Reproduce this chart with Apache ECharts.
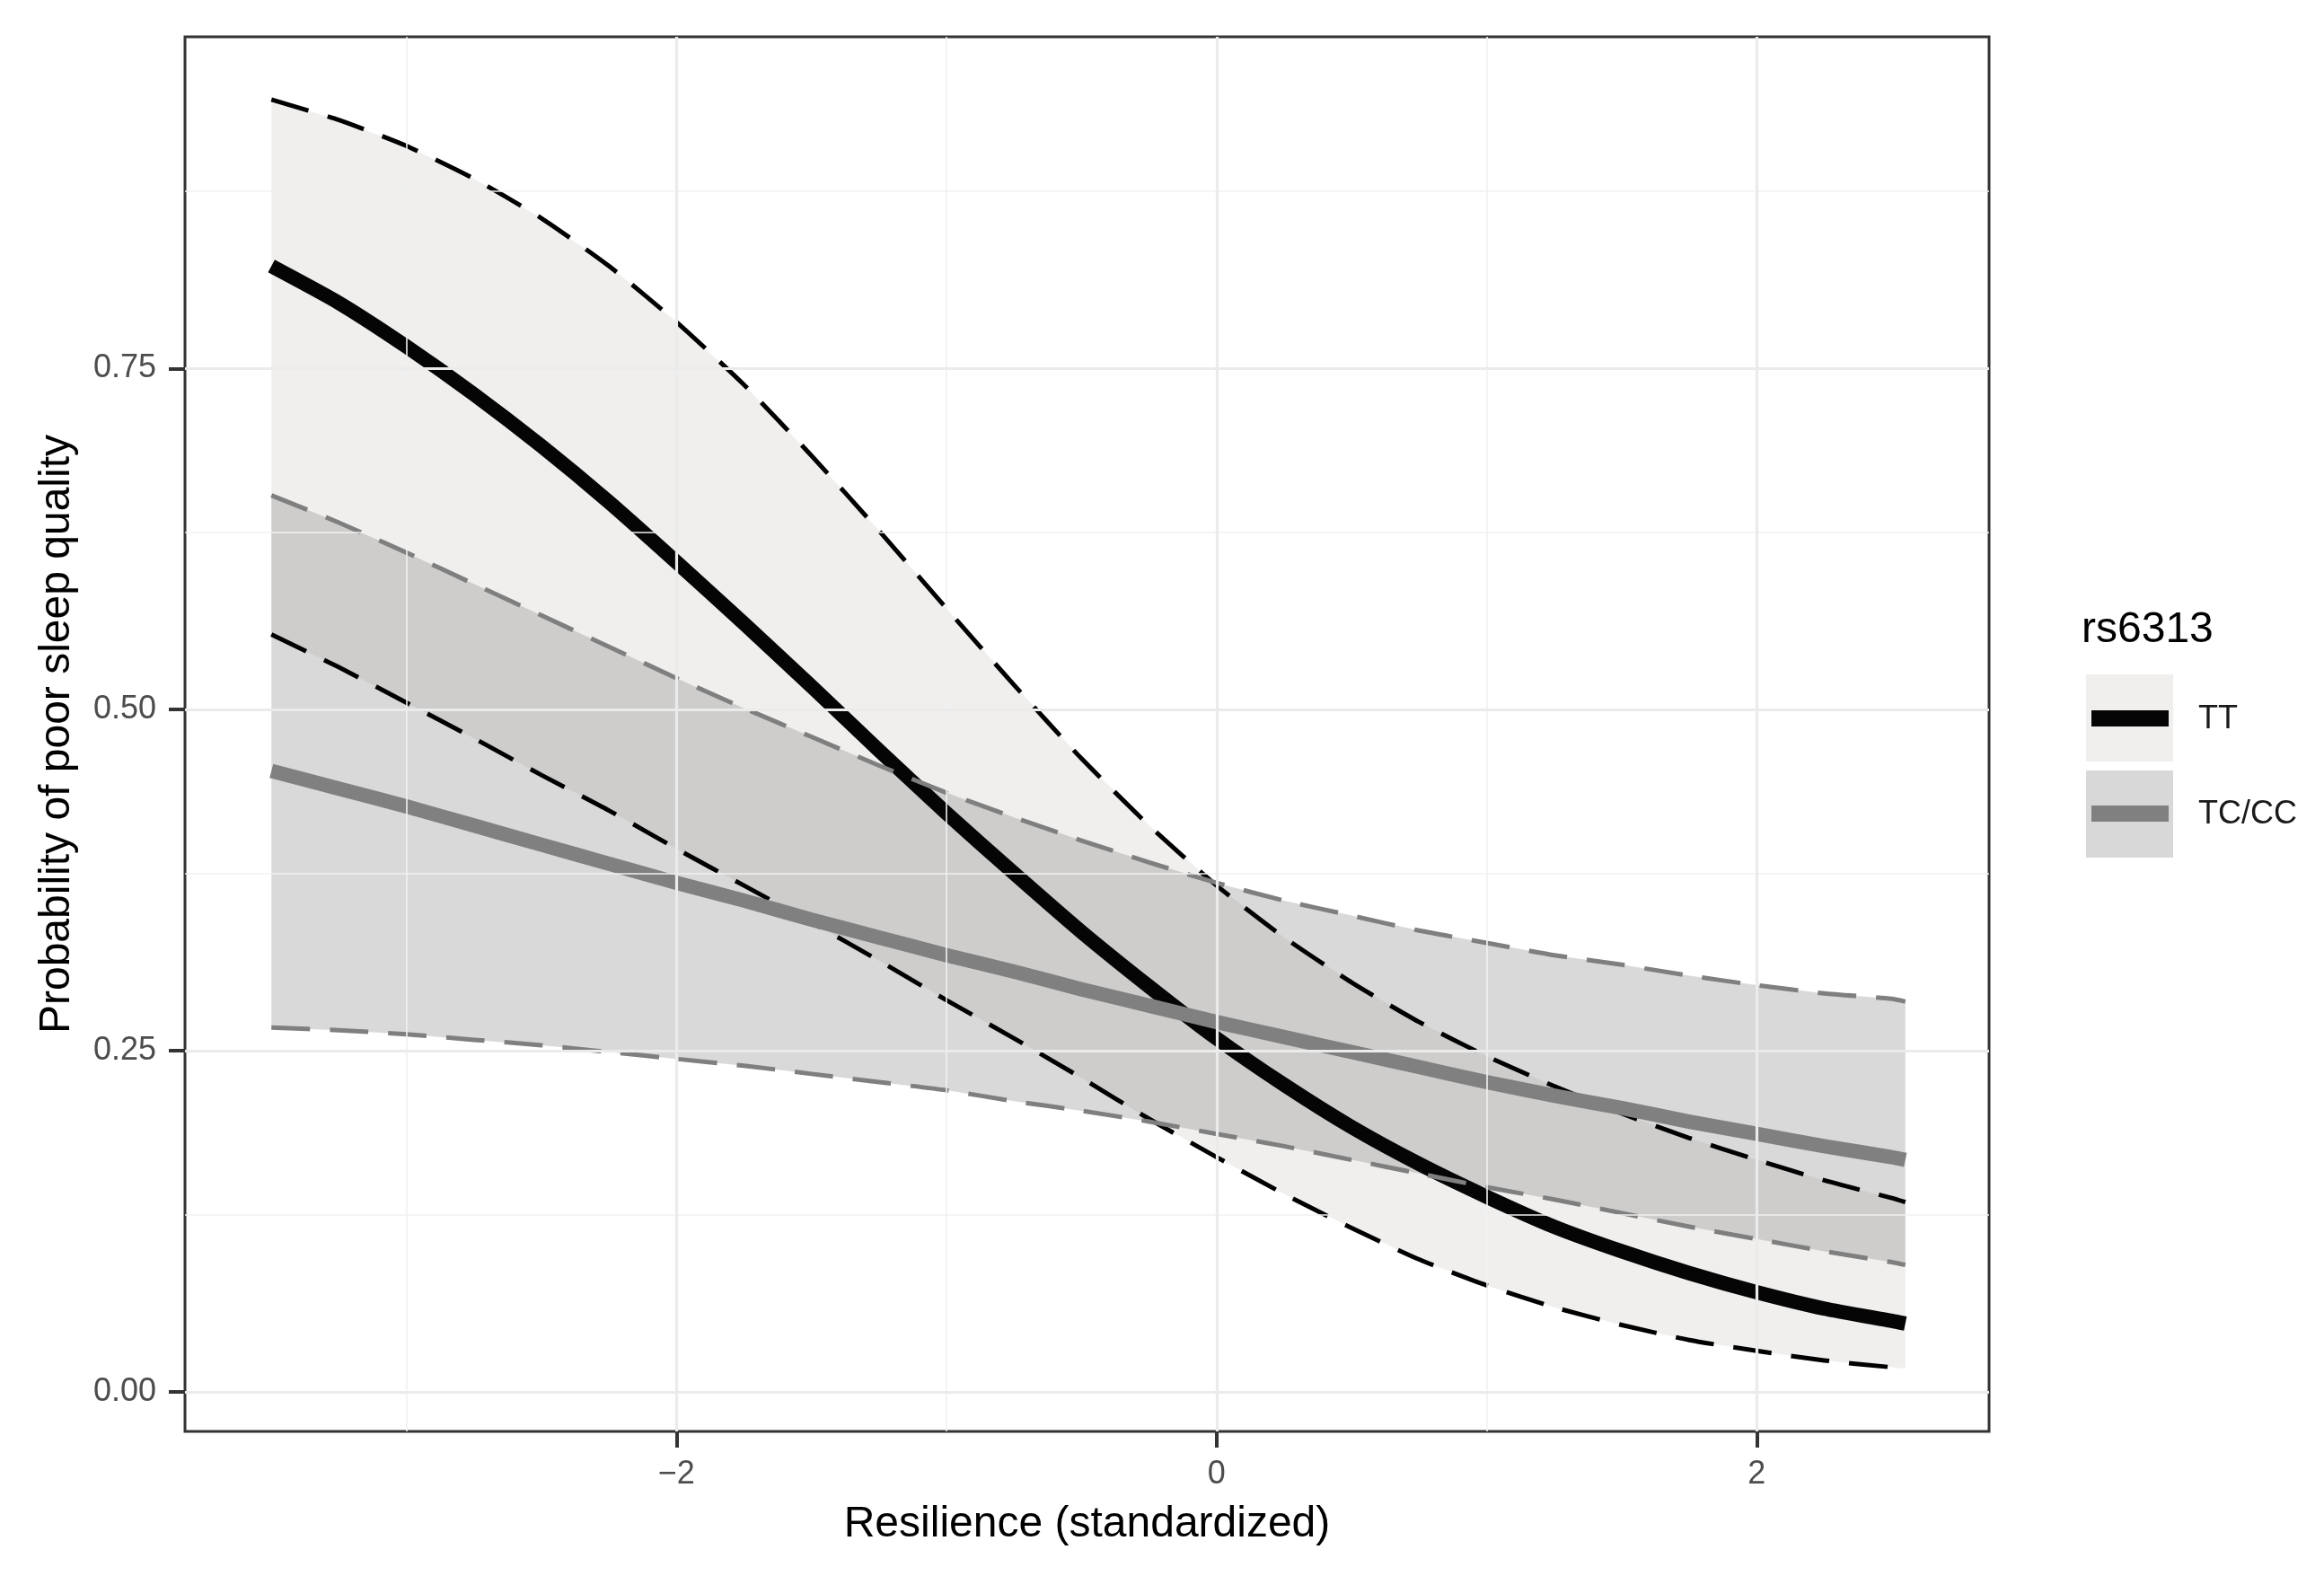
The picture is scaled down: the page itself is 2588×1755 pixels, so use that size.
<!DOCTYPE html>
<html>
<head>
<meta charset="utf-8">
<script src="https://cdn.jsdelivr.net/npm/echarts@6/dist/echarts.min.js"></script>
<style>
html,body{margin:0;padding:0;background:#fff;}
#chart{width:2588px;height:1755px;}
</style>
</head>
<body>
<div id="chart"></div>
<script>
// ---- data ----
const resilience = [-3.5, -3.25, -3, -2.75, -2.5, -2.25, -2, -1.75, -1.5, -1.25, -1, -0.75, -0.5, -0.25,
                    0, 0.25, 0.5, 0.75, 1, 1.25, 1.5, 1.75, 2, 2.25, 2.5, 2.55];
const ttFit   = [0.825, 0.798, 0.766, 0.731, 0.693, 0.652, 0.608, 0.563, 0.517, 0.470, 0.424, 0.380, 0.337, 0.297,
                 0.259, 0.225, 0.194, 0.167, 0.143, 0.121, 0.103, 0.087, 0.073, 0.061, 0.052, 0.050];
const ttUpper = [0.947, 0.932, 0.913, 0.889, 0.860, 0.825, 0.784, 0.738, 0.686, 0.631, 0.574, 0.518, 0.464, 0.415,
                 0.371, 0.333, 0.300, 0.271, 0.246, 0.224, 0.204, 0.186, 0.170, 0.155, 0.142, 0.139];
const ttLower = [0.555, 0.531, 0.505, 0.479, 0.452, 0.426, 0.398, 0.371, 0.344, 0.316, 0.287, 0.259, 0.230, 0.200,
                 0.172, 0.145, 0.120, 0.097, 0.078, 0.062, 0.049, 0.038, 0.030, 0.023, 0.018, 0.017];
const tcFit   = [0.455, 0.442, 0.429, 0.415, 0.401, 0.387, 0.373, 0.360, 0.346, 0.333, 0.320, 0.308, 0.295, 0.283,
                 0.271, 0.260, 0.249, 0.238, 0.227, 0.217, 0.208, 0.198, 0.189, 0.180, 0.172, 0.170];
const tcUpper = [0.657, 0.637, 0.615, 0.592, 0.569, 0.546, 0.523, 0.501, 0.480, 0.459, 0.439, 0.421, 0.404, 0.388,
                 0.373, 0.360, 0.349, 0.338, 0.329, 0.320, 0.313, 0.305, 0.298, 0.292, 0.288, 0.286];
const tcLower = [0.267, 0.265, 0.262, 0.258, 0.254, 0.249, 0.244, 0.239, 0.233, 0.227, 0.221, 0.213, 0.206, 0.198,
                 0.189, 0.180, 0.170, 0.160, 0.150, 0.141, 0.131, 0.121, 0.112, 0.103, 0.095, 0.093];
const groups = ['TT', 'TC/CC'];
const legendTitle = 'rs6313';
const xTicks = [-2, 0, 2];
const yTicks = [0, 0.25, 0.5, 0.75];
const xMinorGrid = [-3, -1, 1];
const yMinorGrid = [0.125, 0.375, 0.625, 0.875];

const pairs = (ys) => resilience.map((x, i) => [x, ys[i]]);

const FONT = '"Liberation Sans", Arial, sans-serif';
const dash = [43, 22];

function band(name, hi, lo, color) {
  return {
    name: name, type: 'custom', data: pairs(hi), silent: true, z: 2,
    encode: {x: 0, y: 1},
    renderItem: function (params, api) {
      if (params.dataIndex !== 0) return null;
      const pts = [];
      for (let i = 0; i < resilience.length; i++) pts.push(api.coord([resilience[i], hi[i]]));
      for (let i = resilience.length - 1; i >= 0; i--) pts.push(api.coord([resilience[i], lo[i]]));
      return {type: 'polygon', shape: {points: pts}, style: {fill: color, stroke: null}};
    }
  };
}
function curve(name, ys, color, width, type) {
  return {
    name: name, type: 'line', data: pairs(ys), smooth: 0.2, symbol: 'none',
    silent: true, z: 2,
    lineStyle: {color: color, width: width, type: type || 'solid', cap: 'butt', join: 'round'}
  };
}

const majorLine = {color: '#ebebeb', width: 3.2, type: 'solid'};
const minorLine = {color: '#f1f1f1', width: 1.6, type: 'solid'};
const gridMarks = [].concat(
  xMinorGrid.map(v => ({xAxis: v, lineStyle: minorLine})),
  yMinorGrid.map(v => ({yAxis: v, lineStyle: minorLine})),
  xTicks.map(v => ({xAxis: v, lineStyle: majorLine})),
  yTicks.map(v => ({yAxis: v, lineStyle: majorLine}))
);

const chart = echarts.init(document.getElementById('chart'), null, {renderer: 'canvas'});
chart.setOption({
  animation: false,
  backgroundColor: '#ffffff',
  grid: {left: 206, top: 41, width: 2009, height: 1553, show: true,
         borderColor: '#333333', borderWidth: 3, backgroundColor: '#ffffff', containLabel: false},
  xAxis: {
    type: 'value', min: -3.82, max: 2.86,
    name: 'Resilience (standardized)', nameLocation: 'middle', nameGap: 80,
    nameTextStyle: {fontSize: 48, color: '#000000', fontFamily: FONT},
    axisLine: {show: false, onZero: false},
    splitLine: {show: false},
    axisTick: {show: true, customValues: xTicks, length: 18, lineStyle: {color: '#333333', width: 4}},
    axisLabel: {customValues: xTicks, margin: 30, fontSize: 36, color: '#4d4d4d', fontFamily: FONT,
                formatter: v => String(v).replace('-', '\u2212')}
  },
  yAxis: {
    type: 'value', min: -0.029, max: 0.993,
    name: 'Probability of poor sleep quality', nameLocation: 'middle', nameRotate: 90, nameGap: 118,
    nameTextStyle: {fontSize: 48, color: '#000000', fontFamily: FONT},
    axisLine: {show: false, onZero: false},
    splitLine: {show: false},
    axisTick: {show: true, customValues: yTicks, length: 18, lineStyle: {color: '#333333', width: 4}},
    axisLabel: {customValues: yTicks, margin: 32, fontSize: 36, color: '#4d4d4d', fontFamily: FONT,
                formatter: v => v.toFixed(2)}
  },
  series: [
    {
      name: 'grid', type: 'line', data: [[0, -1]], symbol: 'none', lineStyle: {opacity: 0}, silent: true, z: 1,
      markLine: {silent: true, symbol: ['none', 'none'], label: {show: false}, animation: false, data: gridMarks}
    },
    band('TT band', ttUpper, ttLower, 'rgba(200,196,192,0.28)'),
    curve('TT lower', ttLower, '#000000', 5, dash),
    curve('TT upper', ttUpper, '#000000', 5, dash),
    curve(groups[0], ttFit, '#050505', 16),
    band('TC band', tcUpper, tcLower, 'rgba(122,122,122,0.286)'),
    curve('TC lower', tcLower, '#7f7f7f', 5, dash),
    curve('TC upper', tcUpper, '#7f7f7f', 5, dash),
    curve(groups[1], tcFit, '#808080', 16)
  ],
  graphic: [
    {type: 'text', left: 2318, top: 678, style: {text: legendTitle, fontSize: 48, fill: '#000000', fontFamily: FONT}},
    {type: 'rect', shape: {x: 2323, y: 751, width: 97, height: 97}, style: {fill: '#f0efee'}},
    {type: 'line', shape: {x1: 2329, y1: 800, x2: 2415, y2: 800}, style: {stroke: '#050505', lineWidth: 18}},
    {type: 'text', left: 2448, top: 783, style: {text: groups[0], fontSize: 36, fill: '#1a1a1a', fontFamily: FONT}},
    {type: 'rect', shape: {x: 2323, y: 858, width: 97, height: 97}, style: {fill: '#d9d8d8'}},
    {type: 'line', shape: {x1: 2329, y1: 906, x2: 2415, y2: 906}, style: {stroke: '#808080', lineWidth: 18}},
    {type: 'text', left: 2448, top: 889, style: {text: groups[1], fontSize: 36, fill: '#1a1a1a', fontFamily: FONT}}
  ]
});
</script>
</body>
</html>
